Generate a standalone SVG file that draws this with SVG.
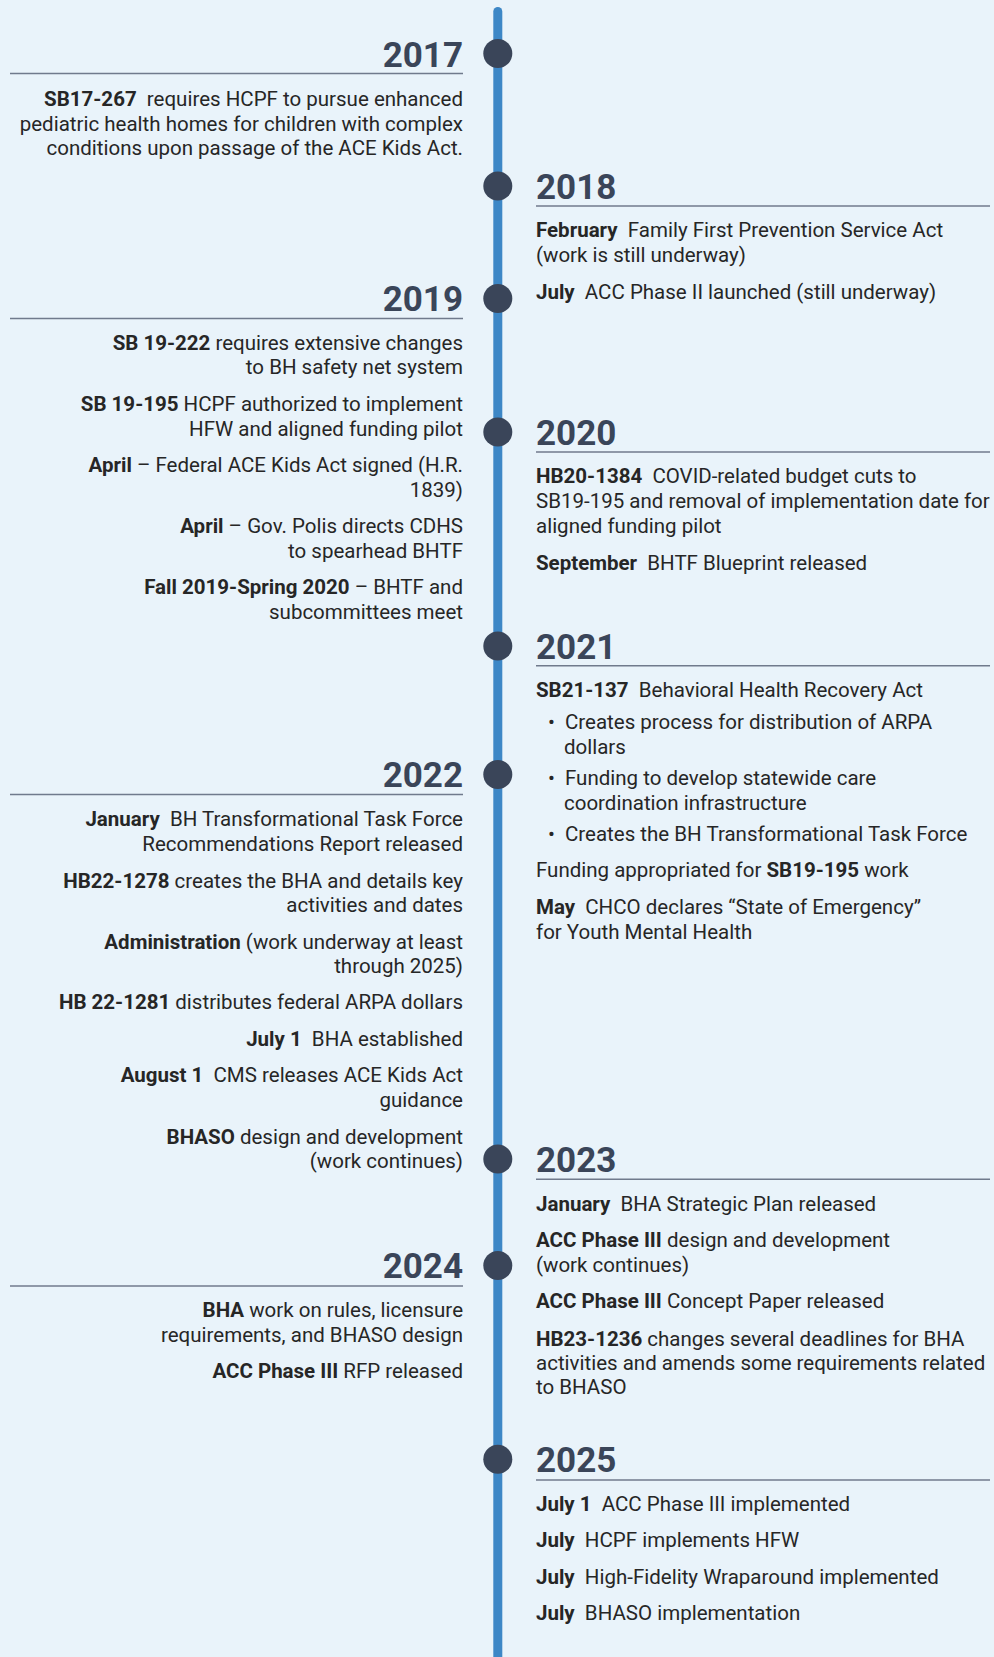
<svg xmlns="http://www.w3.org/2000/svg" width="994" height="1657" viewBox="0 0 994 1657">
<style>
.yr{font-family:Roboto,"Liberation Sans",sans-serif;font-weight:700;font-size:35px;fill:#3a4559}
.tx{font-family:Roboto,"Liberation Sans",sans-serif;font-size:20.5px;fill:#262626}
.b{font-weight:700}
.l{text-anchor:end}
.rule{stroke:#707a8c;stroke-width:1.5}
.dot{fill:#3a4559}
</style>
<rect x="0" y="0" width="994" height="1657" fill="#e9f3fa"/>
<g id="connectors">
<line x1="497.8" y1="11.5" x2="497.8" y2="1670" stroke="#3d87c6" stroke-width="9" stroke-linecap="round"/>
</g>
<g id="y2017">
<circle class="dot" cx="497.8" cy="53.5" r="14.5"/>
<text class="yr l" x="463" y="66.5">2017</text>
<line class="rule" x1="10" y1="73.5" x2="463" y2="73.5"/>
<text class="tx l" x="463" y="105.5"><tspan class="b">SB17-267</tspan>&#160; requires HCPF to pursue enhanced</text>
<text class="tx l" x="463" y="130.5">pediatric health homes for children with complex</text>
<text class="tx l" x="463" y="155">conditions upon passage of the ACE Kids Act.</text>
</g>
<g id="y2018">
<circle class="dot" cx="497.8" cy="186" r="14.5"/>
<text class="yr" x="536" y="198.5">2018</text>
<line class="rule" x1="536" y1="206" x2="990" y2="206"/>
<text class="tx" x="536" y="237.3"><tspan class="b">February</tspan>&#160; Family First Prevention Service Act</text>
<text class="tx" x="536" y="261.8">(work is still underway)</text>
<text class="tx" x="536" y="299"><tspan class="b">July</tspan>&#160; ACC Phase II launched (still underway)</text>
</g>
<g id="y2019">
<circle class="dot" cx="497.8" cy="298.5" r="14.5"/>
<text class="yr l" x="463" y="311">2019</text>
<line class="rule" x1="10" y1="318.5" x2="463" y2="318.5"/>
<text class="tx l" x="463" y="349.5"><tspan class="b">SB 19-222</tspan> requires extensive changes</text>
<text class="tx l" x="463" y="374.3">to BH safety net system</text>
<text class="tx l" x="463" y="410.7"><tspan class="b">SB 19-195</tspan> HCPF authorized to implement</text>
<text class="tx l" x="463" y="435.5">HFW and aligned funding pilot</text>
<text class="tx l" x="463" y="472"><tspan class="b">April</tspan> – Federal ACE Kids Act signed (H.R.</text>
<text class="tx l" x="463" y="497">1839)</text>
<text class="tx l" x="463" y="532.7"><tspan class="b">April</tspan> – Gov. Polis directs CDHS</text>
<text class="tx l" x="463" y="557.5">to spearhead BHTF</text>
<text class="tx l" x="463" y="594"><tspan class="b">Fall 2019-Spring 2020</tspan> – BHTF and</text>
<text class="tx l" x="463" y="619">subcommittees meet</text>
</g>
<g id="y2020">
<circle class="dot" cx="497.8" cy="432" r="14.5"/>
<text class="yr" x="536" y="444.5">2020</text>
<line class="rule" x1="536" y1="452" x2="990" y2="452"/>
<text class="tx" x="536" y="483.3"><tspan class="b">HB20-1384</tspan>&#160; COVID-related budget cuts to</text>
<text class="tx" x="536" y="508">SB19-195 and removal of implementation date for</text>
<text class="tx" x="536" y="532.7">aligned funding pilot</text>
<text class="tx" x="536" y="569.7"><tspan class="b">September</tspan>&#160; BHTF Blueprint released</text>
</g>
<g id="y2021">
<circle class="dot" cx="497.8" cy="646" r="14.5"/>
<text class="yr" x="536" y="658.5">2021</text>
<line class="rule" x1="536" y1="665.7" x2="990" y2="665.7"/>
<text class="tx" x="536" y="696.7"><tspan class="b">SB21-137</tspan>&#160; Behavioral Health Recovery Act</text>
<text class="tx" x="548" y="729">•</text>
<text class="tx" x="565" y="729">Creates process for distribution of ARPA</text>
<text class="tx" x="564" y="754">dollars</text>
<text class="tx" x="548" y="785">•</text>
<text class="tx" x="565" y="785">Funding to develop statewide care</text>
<text class="tx" x="564" y="810">coordination infrastructure</text>
<text class="tx" x="548" y="840.7">•</text>
<text class="tx" x="565" y="840.7">Creates the BH Transformational Task Force</text>
<text class="tx" x="536" y="876.7">Funding appropriated for <tspan class="b">SB19-195</tspan> work</text>
<text class="tx" x="536" y="914"><tspan class="b">May</tspan>&#160; CHCO declares “State of Emergency”</text>
<text class="tx" x="536" y="938.5">for Youth Mental Health</text>
</g>
<g id="y2022">
<circle class="dot" cx="497.8" cy="774.5" r="14.5"/>
<text class="yr l" x="463" y="787">2022</text>
<line class="rule" x1="10" y1="794.5" x2="463" y2="794.5"/>
<text class="tx l" x="463" y="826"><tspan class="b">January</tspan>&#160; BH Transformational Task Force</text>
<text class="tx l" x="463" y="850.7">Recommendations Report released</text>
<text class="tx l" x="463" y="887.7"><tspan class="b">HB22-1278</tspan> creates the BHA and details key</text>
<text class="tx l" x="463" y="911.9">activities and dates</text>
<text class="tx l" x="463" y="949"><tspan class="b">Administration</tspan> (work underway at least</text>
<text class="tx l" x="463" y="973.3">through 2025)</text>
<text class="tx l" x="463" y="1009.3"><tspan class="b">HB 22-1281</tspan> distributes federal ARPA dollars</text>
<text class="tx l" x="463" y="1045.7"><tspan class="b">July 1</tspan>&#160; BHA established</text>
<text class="tx l" x="463" y="1082.3"><tspan class="b">August 1</tspan>&#160; CMS releases ACE Kids Act</text>
<text class="tx l" x="463" y="1106.7">guidance</text>
<text class="tx l" x="463" y="1144"><tspan class="b">BHASO</tspan> design and development</text>
<text class="tx l" x="463" y="1168">(work continues)</text>
</g>
<g id="y2023">
<circle class="dot" cx="497.8" cy="1159" r="14.5"/>
<text class="yr" x="536" y="1171.7">2023</text>
<line class="rule" x1="536" y1="1179.3" x2="990" y2="1179.3"/>
<text class="tx" x="536" y="1210.7"><tspan class="b">January</tspan>&#160; BHA Strategic Plan released</text>
<text class="tx" x="536" y="1247.3"><tspan class="b">ACC Phase III</tspan> design and development</text>
<text class="tx" x="536" y="1271.7">(work continues)</text>
<text class="tx" x="536" y="1308.3"><tspan class="b">ACC Phase III</tspan> Concept Paper released</text>
<text class="tx" x="536" y="1345.7"><tspan class="b">HB23-1236</tspan> changes several deadlines for BHA</text>
<text class="tx" x="536" y="1369.5">activities and amends some requirements related</text>
<text class="tx" x="536" y="1394">to BHASO</text>
</g>
<g id="y2024">
<circle class="dot" cx="497.8" cy="1265.5" r="14.5"/>
<text class="yr l" x="463" y="1278.3">2024</text>
<line class="rule" x1="10" y1="1286" x2="463" y2="1286"/>
<text class="tx l" x="463" y="1316.7"><tspan class="b">BHA</tspan> work on rules, licensure</text>
<text class="tx l" x="463" y="1341.5">requirements, and BHASO design</text>
<text class="tx l" x="463" y="1377.7"><tspan class="b">ACC Phase III</tspan> RFP released</text>
</g>
<g id="y2025">
<circle class="dot" cx="497.8" cy="1459.3" r="14.5"/>
<text class="yr" x="536" y="1472.3">2025</text>
<line class="rule" x1="536" y1="1480" x2="990" y2="1480"/>
<text class="tx" x="536" y="1510.7"><tspan class="b">July 1</tspan>&#160; ACC Phase III implemented</text>
<text class="tx" x="536" y="1547.3"><tspan class="b">July</tspan>&#160; HCPF implements HFW</text>
<text class="tx" x="536" y="1584.3"><tspan class="b">July</tspan>&#160; High-Fidelity Wraparound implemented</text>
<text class="tx" x="536" y="1620"><tspan class="b">July</tspan>&#160; BHASO implementation</text>
</g>
</svg>
